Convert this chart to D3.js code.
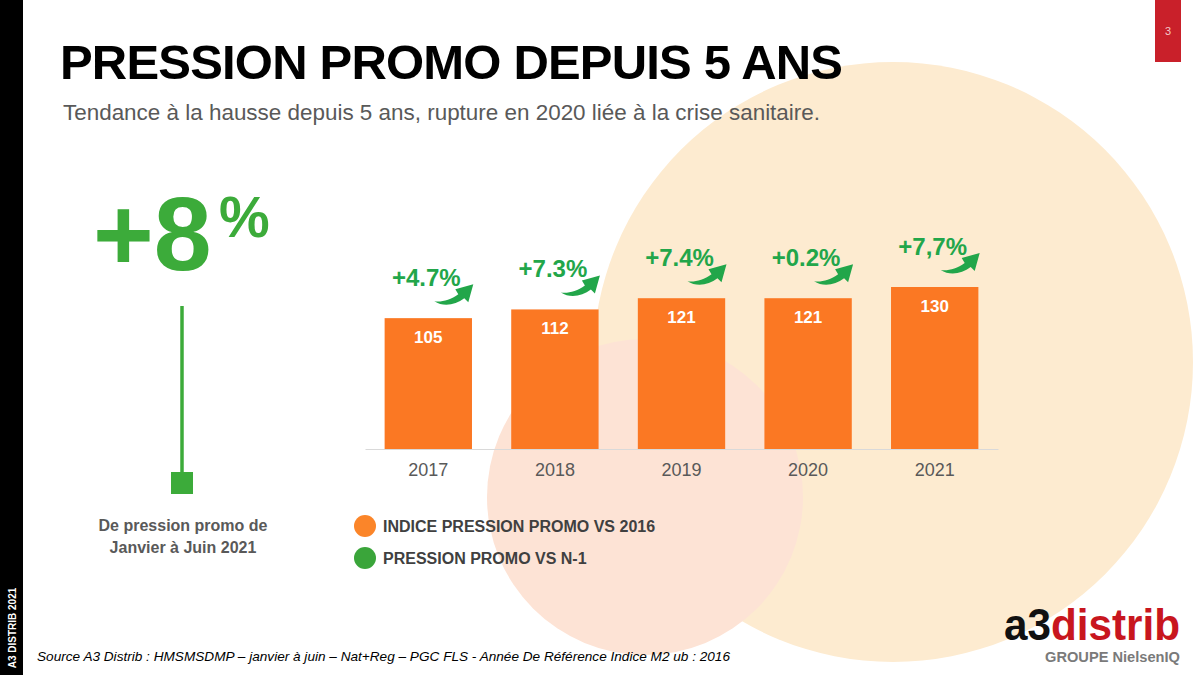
<!DOCTYPE html>
<html>
<head>
<meta charset="utf-8">
<script src="https://cdn.jsdelivr.net/npm/d3@7"></script>
<style>
  body { margin: 0; background: #fff; }
  svg { display: block; font-family: "Liberation Sans", Arial, sans-serif; }
</style>
</head>
<body>
<div id="chart"></div>
<script>
// data
const years = ["2017", "2018", "2019", "2020", "2021"];
const indexValues = [105, 112, 121, 121, 130];
const growthLabels = ["+4.7%", "+7.3%", "+7.4%", "+0.2%", "+7,7%"];
const legendLabels = ["INDICE PRESSION PROMO VS 2016", "PRESSION PROMO VS N-1"];

const orange = "#fb7823";
const green = "#22a64a";
const bigGreen = "#3cab3a";
const grey = "#595959";

const svg = d3.select("#chart").append("svg")
    .attr("width", 1200)
    .attr("height", 675);

// background circles
svg.append("circle").attr("cx", 893).attr("cy", 362).attr("r", 300).attr("fill", "#fdebd0");
svg.append("circle").attr("cx", 645).attr("cy", 497).attr("r", 158).attr("fill", "#fde3d5");

// left black strip
svg.append("rect").attr("x", 0).attr("y", 0).attr("width", 23).attr("height", 675).attr("fill", "#000");
svg.append("text")
    .attr("transform", "translate(16,628) rotate(-90)")
    .attr("text-anchor", "middle")
    .attr("fill", "#fff")
    .style("font-size", "10px")
    .style("font-weight", "bold")
    .text("A3 DISTRIB 2021");

// page tab
svg.append("rect").attr("x", 1155).attr("y", 0).attr("width", 26).attr("height", 62).attr("fill", "#c9202a");
svg.append("text").attr("x", 1168).attr("y", 35).attr("text-anchor", "middle")
    .attr("fill", "#f4c9c9").style("font-size", "11px").text("3");

// title
svg.append("text")
    .attr("x", 60).attr("y", 79)
    .attr("textLength", 783).attr("lengthAdjust", "spacing")
    .style("font-size", "49px").style("font-weight", "bold")
    .attr("fill", "#000")
    .text("PRESSION PROMO DEPUIS 5 ANS");

svg.append("text")
    .attr("x", 63).attr("y", 120)
    .attr("textLength", 757).attr("lengthAdjust", "spacingAndGlyphs")
    .style("font-size", "22px")
    .attr("fill", grey)
    .text("Tendance à la hausse depuis 5 ans, rupture en 2020 liée à la crise sanitaire.");

// +8% block
svg.append("text")
    .attr("x", 93).attr("y", 270)
    .style("font-size", "104px").style("font-weight", "bold")
    .attr("fill", bigGreen)
    .text("+8");
svg.append("text")
    .attr("x", 219).attr("y", 237)
    .style("font-size", "57px").style("font-weight", "bold")
    .attr("fill", bigGreen)
    .text("%");
svg.append("line").attr("x1", 182).attr("x2", 182).attr("y1", 306).attr("y2", 476)
    .attr("stroke", bigGreen).attr("stroke-width", 3.5);
svg.append("rect").attr("x", 171).attr("y", 472).attr("width", 22).attr("height", 22).attr("fill", bigGreen);
svg.append("text")
    .attr("x", 183).attr("y", 531)
    .attr("text-anchor", "middle")
    .style("font-size", "16px").style("font-weight", "bold")
    .attr("fill", grey)
    .selectAll("tspan")
    .data(["De pression promo de", "Janvier à Juin 2021"])
    .enter().append("tspan")
    .attr("x", 183)
    .attr("dy", (d, i) => i ? 22 : 0)
    .text(d => d);

// bar chart
const x = d3.scaleBand().domain(years).range([365, 998]).paddingInner(0.31).paddingOuter(0.155);
const y = d3.scaleLinear().domain([0, 130]).range([449, 287]);

svg.append("g")
    .attr("transform", "translate(0,449)")
    .call(d3.axisBottom(x).tickSize(0).tickPadding(14))
    .call(g => g.select(".domain").attr("stroke", "#d9d9d9").attr("stroke-width", 1.2))
    .selectAll("text")
    .style("font-size", "18px")
    .style("font-family", "'Liberation Sans', Arial, sans-serif")
    .attr("fill", grey);

svg.selectAll(".bar")
    .data(indexValues)
    .enter().append("rect")
    .attr("class", "bar")
    .attr("x", (d, i) => x(years[i]))
    .attr("y", d => y(d))
    .attr("width", x.bandwidth())
    .attr("height", d => y(0) - y(d))
    .attr("fill", orange);

svg.selectAll(".val")
    .data(indexValues)
    .enter().append("text")
    .attr("class", "val")
    .attr("x", (d, i) => x(years[i]) + x.bandwidth() / 2)
    .attr("y", d => y(d) + 25)
    .attr("text-anchor", "middle")
    .style("font-size", "17px").style("font-weight", "bold")
    .attr("fill", "#fff")
    .text(d => d);

// growth labels, baseline ~32px above each bar
const growth = svg.selectAll(".growth")
    .data(growthLabels)
    .enter().append("g")
    .attr("class", "growth")
    .attr("transform", (d, i) => `translate(${x(years[i]) + x.bandwidth() / 2 - 2},${y(indexValues[i]) - 32})`);

growth.append("text")
    .attr("text-anchor", "middle")
    .style("font-size", "24px").style("font-weight", "bold")
    .attr("fill", green)
    .text(d => d);

// curved swoosh arrow
growth.append("path")
    .attr("d", "M8,15 C15,16 24,14 32,8 L29,3 L47,-2 L42,16 L38,12 C29,19 17,21 8,15 Z")
    .attr("fill", green);

// legend
const legend = svg.selectAll(".legend")
    .data(legendLabels)
    .enter().append("g")
    .attr("class", "legend")
    .attr("transform", (d, i) => `translate(365,${526 + i * 32})`);
legend.append("circle").attr("r", 11).attr("fill", (d, i) => i ? "#3aa53a" : "#fb8529");
legend.append("text")
    .attr("x", 18).attr("y", 6)
    .style("font-size", "16px").style("font-weight", "bold")
    .attr("fill", "#404040")
    .text(d => d);

// source
svg.append("text")
    .attr("x", 37).attr("y", 661)
    .attr("textLength", 693).attr("lengthAdjust", "spacingAndGlyphs")
    .style("font-size", "13.5px").style("font-style", "italic")
    .attr("fill", "#000")
    .text("Source A3 Distrib : HMSMSDMP – janvier à juin – Nat+Reg – PGC FLS - Année De Référence Indice M2 ub : 2016");

// logo
const logo = svg.append("text")
    .attr("x", 1004).attr("y", 640)
    .style("font-size", "44px").style("font-weight", "bold")
    .attr("textLength", 176).attr("lengthAdjust", "spacingAndGlyphs");
logo.append("tspan").attr("fill", "#111").text("a3");
logo.append("tspan").attr("fill", "#c8161e").text("distrib");
svg.append("text")
    .attr("x", 1180).attr("y", 662)
    .attr("text-anchor", "end")
    .attr("textLength", 135).attr("lengthAdjust", "spacingAndGlyphs")
    .style("font-size", "14px").style("font-weight", "bold")
    .attr("fill", "#7a7a7a")
    .text("GROUPE NielsenIQ");
</script>
</body>
</html>
